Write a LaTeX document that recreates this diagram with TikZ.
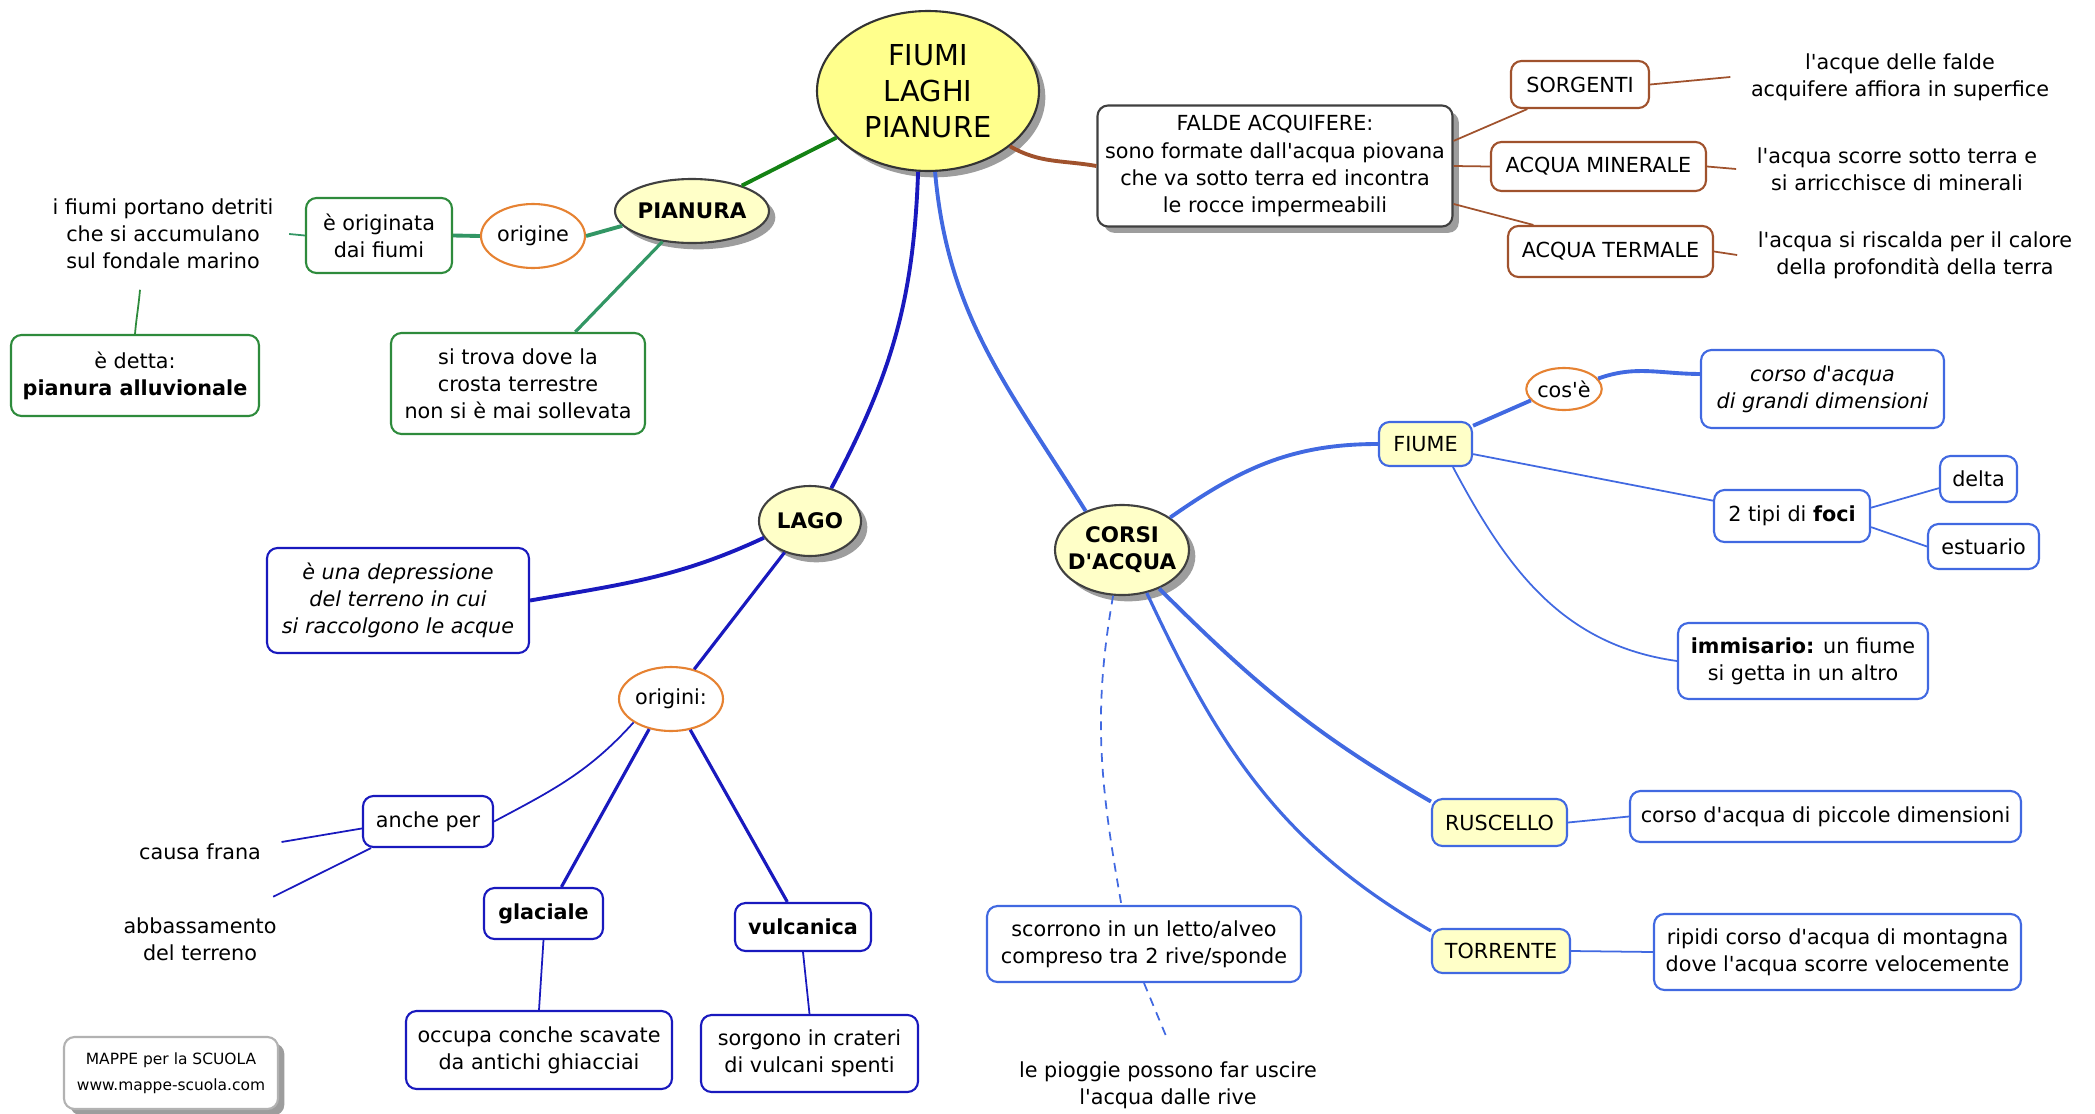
\documentclass[tikz,border=0pt]{standalone}
\usepackage{fontspec}
\newfontfamily\mapfont{DejaVu Sans}
\usetikzlibrary{shapes.geometric}
\usetikzlibrary{shadows}

\definecolor{titleyellow}{RGB}{255,255,140}
\definecolor{paleyellow}{RGB}{255,255,200}
\definecolor{faldabrown}{RGB}{160,82,45}
\definecolor{greenbox}{RGB}{46,139,60}
\definecolor{greenline}{RGB}{20,130,20}
\definecolor{tealline}{RGB}{50,150,100}
\definecolor{lagoblue}{RGB}{25,25,190}
\definecolor{corsiblue}{RGB}{65,105,225}
\definecolor{ovalorange}{RGB}{230,130,50}

\begin{document}
\begin{tikzpicture}[
    every node/.style={font={\mapfont\fontsize{5.9}{7.7}\selectfont}, align=center, inner sep=0pt},
    bx/.style={draw, rounded corners=3pt, line width=0.6pt, fill=white},
    shd/.style={drop shadow={shadow xshift=1.8pt, shadow yshift=-1.8pt, fill=black!55, opacity=0.7}},
    subell/.style={ellipse, draw=black!75, line width=0.6pt, fill=paleyellow, shd,
        font={\mapfont\bfseries\fontsize{6.1}{7.7}\selectfont}},
    orell/.style={ellipse, draw=ovalorange, line width=0.6pt, fill=white},
    txt/.style={inner sep=0.2cm},
    thk/.style={line width=1.1pt},
    thn/.style={line width=0.5pt}
]
    \useasboundingbox (0,0) rectangle (20.95,-11.14);

    % Centre
    \node[ellipse, draw=black!80, line width=0.6pt, fill=titleyellow, shd,
        minimum width=2.22cm, minimum height=1.60cm,
        font={\mapfont\fontsize{8.2}{10.2}\selectfont}] (main) at (9.28,-0.91) {FIUMI\\LAGHI\\PIANURE};

    % Falde acquifere
    \node[bx, draw=black!75, shd, minimum width=3.55cm, minimum height=1.21cm] (falde) at (12.75,-1.66)
        {FALDE ACQUIFERE:\\sono formate dall'acqua piovana\\che va sotto terra ed incontra\\le rocce impermeabili};
    \node[bx, draw=faldabrown, minimum width=1.38cm, minimum height=0.47cm] (sorgenti) at (15.80,-0.845) {SORGENTI};
    \node[bx, draw=faldabrown, minimum width=2.15cm, minimum height=0.49cm] (minerale) at (15.985,-1.665) {ACQUA MINERALE};
    \node[bx, draw=faldabrown, minimum width=2.05cm, minimum height=0.51cm] (termale) at (16.105,-2.515) {ACQUA TERMALE};
    \node[txt] (sorgtxt) at (19.00,-0.77) {l'acque delle falde\\acquifere affiora in superfice};
    \node[txt] (mintxt) at (18.97,-1.69) {l'acqua scorre sotto terra e\\si arricchisce di minerali};
    \node[txt] (termtxt) at (19.15,-2.55) {l'acqua si riscalda per il calore\\della profondità della terra};

    % Pianura
    \node[subell, minimum width=1.54cm, minimum height=0.64cm] (pianura) at (6.92,-2.11) {PIANURA};
    \node[orell, minimum width=1.04cm, minimum height=0.64cm] (origine) at (5.33,-2.36) {origine};
    \node[bx, draw=greenbox, minimum width=1.46cm, minimum height=0.75cm] (originata) at (3.79,-2.355) {è originata\\dai fiumi};
    \node[txt, inner xsep=0.15cm] (detriti) at (1.63,-2.34) {i fiumi portano detriti\\che si accumulano\\sul fondale marino};
    \node[bx, draw=greenbox, minimum width=2.48cm, minimum height=0.81cm] (detta) at (1.35,-3.755) {è detta:\\\textbf{pianura alluvionale}};
    \node[bx, draw=greenbox, minimum width=2.54cm, minimum height=1.01cm] (sitrova) at (5.18,-3.835) {si trova dove la\\crosta terrestre\\non si è mai sollevata};

    % Lago
    \node[subell, minimum width=1.02cm, minimum height=0.70cm] (lago) at (8.10,-5.21) {LAGO};
    \node[bx, draw=lagoblue, minimum width=2.62cm, minimum height=1.05cm,
        font={\mapfont\itshape\fontsize{5.9}{7.7}\selectfont}] (depress) at (3.98,-6.005) {è una depressione\\del terreno in cui\\si raccolgono le acque};
    \node[orell, minimum width=1.04cm, minimum height=0.64cm] (origini) at (6.71,-6.99) {origini:};
    \node[bx, draw=lagoblue, minimum width=1.30cm, minimum height=0.51cm] (anche) at (4.28,-8.215) {anche per};
    \node[txt] (frana) at (2.00,-8.52) {causa frana};
    \node[txt] (abbass) at (2.00,-9.39) {abbassamento\\del terreno};
    \node[bx, draw=lagoblue, minimum width=1.19cm, minimum height=0.51cm] (glaciale) at (5.435,-9.135) {\textbf{glaciale}};
    \node[bx, draw=lagoblue, minimum width=1.36cm, minimum height=0.48cm] (vulcanica) at (8.03,-9.27) {\textbf{vulcanica}};
    \node[bx, draw=lagoblue, minimum width=2.66cm, minimum height=0.78cm] (conche) at (5.39,-10.50) {occupa conche scavate\\da antichi ghiacciai};
    \node[bx, draw=lagoblue, minimum width=2.17cm, minimum height=0.77cm] (crateri) at (8.095,-10.535) {sorgono in crateri\\di vulcani spenti};

    % Corsi d'acqua
    \node[subell, inner xsep=-3pt, minimum width=1.34cm, minimum height=0.90cm] (corsi) at (11.22,-5.50) {CORSI\\D'ACQUA};
    \node[bx, draw=corsiblue, fill=paleyellow, minimum width=0.93cm, minimum height=0.44cm] (fiume) at (14.255,-4.44) {FIUME};
    \node[orell, minimum width=0.70cm, minimum height=0.42cm] (cose) at (15.64,-3.89) {cos'è};
    \node[bx, draw=corsiblue, minimum width=2.43cm, minimum height=0.78cm,
        font={\mapfont\itshape\fontsize{5.9}{7.7}\selectfont}] (grandi) at (18.225,-3.89) {corso d'acqua\\di grandi dimensioni};
    \node[bx, draw=corsiblue, minimum width=1.56cm, minimum height=0.52cm] (foci) at (17.92,-5.16) {2 tipi di \textbf{foci}};
    \node[bx, draw=corsiblue, minimum width=0.77cm, minimum height=0.46cm] (delta) at (19.785,-4.79) {delta};
    \node[bx, draw=corsiblue, minimum width=1.11cm, minimum height=0.45cm] (estuario) at (19.835,-5.465) {estuario};
    \node[bx, draw=corsiblue, minimum width=2.50cm, minimum height=0.76cm] (immis) at (18.03,-6.61) {\textbf{immisario:} un fiume\\si getta in un altro};
    \node[bx, draw=corsiblue, fill=paleyellow, minimum width=1.35cm, minimum height=0.47cm] (ruscello) at (14.995,-8.225) {RUSCELLO};
    \node[bx, draw=corsiblue, minimum width=3.91cm, minimum height=0.51cm] (piccole) at (18.255,-8.165) {corso d'acqua di piccole dimensioni};
    \node[bx, draw=corsiblue, fill=paleyellow, minimum width=1.38cm, minimum height=0.44cm] (torrente) at (15.01,-9.51) {TORRENTE};
    \node[bx, draw=corsiblue, minimum width=3.67cm, minimum height=0.76cm] (ripidi) at (18.375,-9.52) {ripidi corso d'acqua di montagna\\dove l'acqua scorre velocemente};
    \node[bx, draw=corsiblue, minimum width=3.14cm, minimum height=0.76cm] (scorrono) at (11.44,-9.44) {scorrono in un letto/alveo\\compreso tra 2 rive/sponde};
    \node[txt] (pioggie) at (11.68,-10.85) {le pioggie possono far uscire\\l'acqua dalle rive};

    % Logo
    \node[bx, draw=black!30, shd, minimum width=2.14cm, minimum height=0.72cm,
        font={\mapfont\fontsize{4.4}{7.4}\selectfont}] (logo) at (1.71,-10.73) {MAPPE per la SCUOLA\\www.mappe-scuola.com};

    % Links of the falde
    \draw[faldabrown, thk] (main.-34) to[out=-30, in=170] (falde.west);
    \draw[faldabrown, thn] (falde.8) -- (sorgenti.205);
    \draw[faldabrown, thn] (falde.east) -- (minerale.west);
    \draw[faldabrown, thn] (falde.-12) -- (termale.161);
    \draw[faldabrown, thn] (sorgenti.east) -- (sorgtxt.west);
    \draw[faldabrown, thn] (minerale.east) -- (mintxt.west);
    \draw[faldabrown, thn] (termale.east) -- (termtxt.west);

    % Links of the pianura
    \draw[greenline, thk] (main.207) -- (pianura.27);
    \draw[tealline, thk] (pianura.192) -- (origine.east);
    \draw[tealline, thk] (origine.west) -- (originata.east);
    \draw[tealline, thn] (originata.west) -- (detriti.east);
    \draw[greenbox, thn] ([xshift=0.05cm]detriti.south -| detta.north) to[out=-95, in=85] (detta.north);
    \draw[tealline, line width=0.9pt] (pianura.226) -- (sitrova.42);

    % Links of the lago
    \draw[lagoblue, thk] (main.263) to[out=-92, in=62] (lago.57);
    \draw[lagoblue, thk] (lago.200) to[out=205, in=10] (depress.east);
    \draw[lagoblue, line width=0.9pt] (lago.231) -- (origini.52);
    \draw[lagoblue, thn] (origini.212) to[out=228, in=28] (anche.east);
    \draw[lagoblue, thn] (anche.186) -- (frana.7);
    \draw[lagoblue, thn] (anche.205) -- (abbass.30);
    \draw[lagoblue, line width=0.9pt] (origini.234) -- (glaciale.56);
    \draw[lagoblue, line width=0.9pt] (origini.302) -- (vulcanica.122);
    \draw[lagoblue, thn] (glaciale.south) -- (conche.north);
    \draw[lagoblue, thn] (vulcanica.south) -- (crateri.north);

    % Links of the corsi d'acqua
    \draw[corsiblue, thk] (main.275) to[out=-85, in=122] (corsi.133);
    \draw[corsiblue, thk] (corsi.34) to[out=35, in=180] (fiume.west);
    \draw[corsiblue, thk] (fiume.21) -- (cose.199);
    \draw[corsiblue, thk] (cose.17) to[out=20, in=180] (grandi.173);
    \draw[corsiblue, thn] (fiume.-12) -- (foci.169);
    \draw[corsiblue, thn] (foci.6) -- (delta.193);
    \draw[corsiblue, thn] (foci.-8) -- (estuario.west);
    \draw[corsiblue, thn] (fiume.-40) to[out=-62, in=172] (immis.west);
    \draw[corsiblue, thk] (corsi.314) to[out=-45, in=150] (ruscello.163);
    \draw[corsiblue, thn] (ruscello.east) -- (piccole.west);
    \draw[corsiblue, line width=0.9pt] (corsi.300) to[out=-65, in=150] (torrente.164);
    \draw[corsiblue, thn] (torrente.east) -- (ripidi.west);
    \draw[corsiblue, thn, dash pattern=on 2.5pt off 2pt] (corsi.259) to[out=-100, in=100] (scorrono.120);
    \draw[corsiblue, thn, dash pattern=on 2.5pt off 2pt] (scorrono.south) -- (pioggie.north);

\end{tikzpicture}
\end{document}
